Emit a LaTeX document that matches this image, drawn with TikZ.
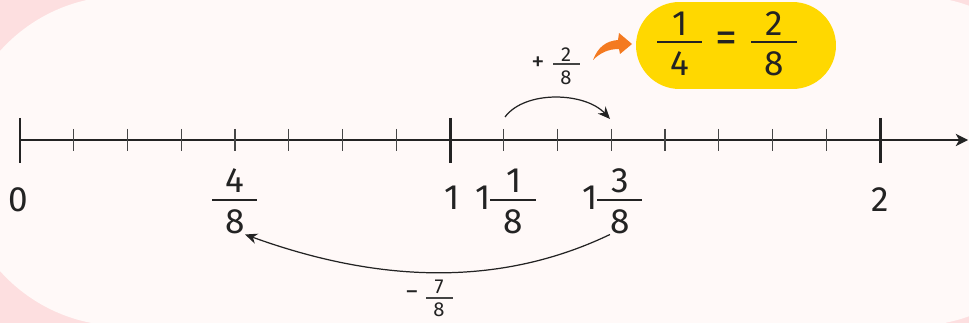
\documentclass[tikz,border=0pt]{standalone}
\usepackage{fontspec}
\setmainfont{Fira Sans}
\usetikzlibrary{arrows.meta}
\definecolor{pinkbg}{RGB}{253,223,224}
\definecolor{offwhite}{RGB}{255,249,248}
\definecolor{ink}{RGB}{35,35,35}
\definecolor{tickgray}{RGB}{70,70,70}
\definecolor{sun}{RGB}{255,216,0}
\definecolor{orangearrow}{RGB}{244,122,32}
\begin{document}
\begin{tikzpicture}[x=0.02cm,y=-0.02cm,
  big/.style={font=\fontsize{20}{24}\selectfont, text=ink, inner sep=0pt},
  small/.style={font=\fontsize{11.5}{14}\selectfont, text=ink, inner sep=0pt},
  sign/.style={font=\fontsize{15}{18}\selectfont, text=ink, inner sep=0pt},
  fbar/.style={draw=ink, line width=0.85pt},
  sbar/.style={draw=ink!85, line width=0.7pt},
  major/.style={draw=ink, line width=1.7pt},
  minor/.style={draw=tickgray, line width=0.7pt},
  hop/.style={draw=ink, line width=0.7pt, -{Stealth[length=7pt,width=6pt]}}
]
\useasboundingbox (0,0) rectangle (969,323);
\fill[pinkbg] (0,0) rectangle (969,323);
\begin{scope}
  \clip (0,0) rectangle (969,323);
  \fill[offwhite, rounded corners=3.3cm] (-42,-4) rectangle (1078,326);
\end{scope}

% axis
\coordinate (o) at (20,140);
\coordinate (axisend) at (968,140);
\draw[ink, line width=0.85pt, -{Stealth[length=7pt,width=7pt,inset=2pt]}] (o) -- (axisend);
\foreach \k in {1,...,7,9,10,11,12,13,14,15}
  \draw[minor] ({20+\k*53.75},129) -- ({20+\k*53.75},151);
\foreach \x in {20,450,880}
  \draw[major] (\x,118) -- (\x,163);

% labels under the axis
\node[big] (l0) at (18,200) {0};
\node[big] (n48) at (235,181) {4};
\draw[fbar] (212,200) -- (257,200);
\node[big] (d48) at (235,222) {8};
\node[big] (l1) at (452,198) {1};
\node[big] (w118) at (483,198) {1};
\node[big] (n118) at (514,181) {1};
\draw[fbar] (490,200) -- (536,200);
\node[big] (d118) at (513,222) {8};
\node[big] (w138) at (590,198) {1};
\node[big] (n138) at (620,181) {3};
\draw[fbar] (597,200) -- (642,200);
\node[big] (d138) at (620,222) {8};
\node[big] (l2) at (880,200) {2};

% yellow box
\node[fill=sun, minimum width=4cm, minimum height=1.74cm, rounded corners=0.87cm, inner sep=0pt] (box) at (736,45.5) {};
\node[big] (n14) at (680,24) {1};
\draw[fbar] (657,42) -- (702,42);
\node[big] (d14) at (680,64) {4};
\node[big, font=\fontsize{25}{28}\selectfont] (eq) at (726,42) {=};
\node[big] (n28) at (774,24) {2};
\draw[fbar] (751,42) -- (797,42);
\node[big] (d28) at (774,64) {8};

% plus two eighths
\node[sign] (plus) at (538,64) {+};
\node[small] (n28s) at (566,55) {2};
\draw[sbar] (553,64) -- (580,64);
\node[small] (d28s) at (566,78) {8};
\coordinate (from1) at (505,117);
\coordinate (to1) at (610,119);
\draw[hop] (from1) .. controls (525,90) and (585,92) .. (to1);

% orange swoosh
\fill[orangearrow] (593,60) .. controls (598,47) and (606,41) .. (618,40) -- (619,33) -- (632,44) -- (620,54) -- (619,49) .. controls (608,49) and (600,53) .. (593,60) -- cycle;

% minus seven eighths
\node[sign] (minus) at (412,296) {−};
\node[small] (n78) at (439,287) {7};
\draw[sbar] (426,298) -- (453,298);
\node[small] (d78) at (439,310) {8};
\draw[hop] (d138.south west) .. controls (490,292) and (365,278) .. (d48.south east);
\end{tikzpicture}
\end{document}
